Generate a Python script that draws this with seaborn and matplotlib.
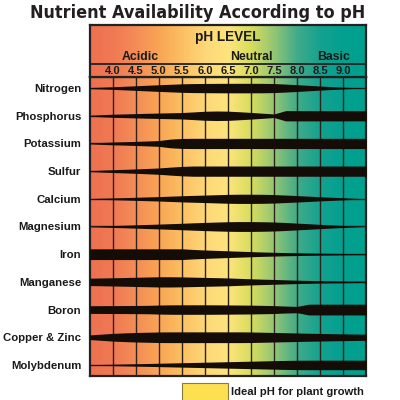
import matplotlib
matplotlib.use("Agg")
import matplotlib.pyplot as plt
import numpy as np
import seaborn as sns
from matplotlib import font_manager
from matplotlib.colors import LinearSegmentedColormap
from matplotlib.patches import Rectangle

# Data
nutrients = ['Nitrogen', 'Phosphorus', 'Potassium', 'Sulfur', 'Calcium', 'Magnesium',
             'Iron', 'Manganese', 'Boron', 'Copper & Zinc', 'Molybdenum']
ph_ticks = [4.0, 4.5, 5.0, 5.5, 6.0, 6.5, 7.0, 7.5, 8.0, 8.5, 9.0]
ph_grid = [3.5, 3.75, 4.0, 4.25, 4.5, 4.75, 5.0, 5.25, 5.5, 5.75, 6.0, 6.25, 6.5,
           6.75, 7.0, 7.25, 7.5, 7.75, 8.0, 8.25, 8.5, 8.75, 9.0, 9.25, 9.5]

# relative availability (band thickness) at each ph_grid point
nitrogen = [.10, .17, .25, .35, .45, .55, .65, .74, .83, .88, .90, .92, .93,
            .93, .93, .92, .88, .78, .66, .53, .40, .28, .17, .07, 0]
phosphorus = [.10, .20, .30, .36, .42, .48, .53, .58, .63, .75, .88, .93, .90,
              .78, .65, .50, .35, 1.0, 1.0, 1.0, 1.0, 1.0, 1.0, 1.0, 1.0]
potassium = [.08, .18, .27, .33, .40, .48, .57, .85, .97, 1.0, 1.0, 1.0, 1.0,
             1.0, 1.0, 1.0, 1.0, 1.0, 1.0, 1.0, 1.0, 1.0, 1.0, 1.0, 1.0]
sulfur = [.08, .18, .27, .35, .43, .52, .62, .78, .92, 1.0, 1.0, 1.0, 1.0,
          1.0, 1.0, 1.0, 1.0, 1.0, 1.0, 1.0, 1.0, 1.0, 1.0, 1.0, 1.0]
calcium = [.05, .12, .17, .23, .30, .37, .43, .52, .60, .67, .73, .80, .87,
           .90, .90, .88, .83, .73, .63, .52, .40, .30, .20, .10, 0]
magnesium = [.05, .12, .18, .25, .32, .40, .47, .55, .63, .72, .80, .87, .93,
             .96, .96, .93, .88, .78, .66, .54, .42, .30, .19, .09, 0]
iron = [1.05, 1.05, 1.05, 1.05, 1.05, 1.05, 1.05, 1.05, 1.05, .92, .82, .74, .66,
        .58, .50, .43, .37, .31, .27, .22, .19, .16, .13, .11, .10]
manganese = [.72, .76, .80, .85, .90, .95, 1.0, 1.0, .97, .92, .87, .82, .77,
             .68, .60, .53, .47, .40, .33, .28, .23, .20, .17, .15, .13]
boron = [.75, .76, .77, .78, .80, .82, .88, .92, .93, .93, .93, .92, .90,
         .88, .86, .82, .77, .68, .62, 1.05, 1.05, 1.05, 1.05, 1.05, 1.05]
copper_zinc = [.45, .60, .75, .85, .93, .98, 1.03, 1.05, 1.05, 1.05, 1.05, 1.05, 1.05,
               1.05, 1.03, .98, .93, .88, .83, .78, .74, .70, .66, .63, .60]
molybdenum = [.03, .08, .13, .18, .23, .28, .33, .38, .43, .48, .53, .58, .63,
              .68, .73, .78, .83, .88, .91, .93, .93, .93, .93, .93, .93]
bands = [nitrogen, phosphorus, potassium, sulfur, calcium, magnesium,
         iron, manganese, boron, copper_zinc, molybdenum]

zones = ['Acidic', 'Neutral', 'Basic']
zone_ph = [4.6, 7.0, 8.8]
ideal_ph = (5.5, 6.5)

# background colour stops along pH
stop_ph = [3.5, 4.0, 4.5, 5.0, 5.5, 6.0, 6.5, 7.0, 7.5, 8.0, 8.5, 9.0, 9.5]
stop_colors = ['#ee7150', '#f07a54', '#f48d57', '#f9a654', '#fcc063', '#fdd878',
               '#fde47c', '#d7dd5d', '#93c576', '#40ab89', '#14a290', '#03a08f', '#00a08e']

sns.set_theme(style='white')
plt.rcParams['font.family'] = ['Liberation Sans', 'DejaVu Sans']

# heavy condensed face for the title if one is installed
cond = [f for f in font_manager.fontManager.ttflist
        if f.name == 'DejaVu Sans' and f.stretch == 'condensed' and f.weight in (700, 'bold')]
if cond:
    title_kw = dict(family='DejaVu Sans', fontstretch='condensed', fontsize=12.9)
else:
    title_kw = dict(family=['Liberation Sans', 'DejaVu Sans'], fontsize=13.8)

cmap = LinearSegmentedColormap.from_list(
    'ph', [((p - 3.5) / 6.0, c) for p, c in zip(stop_ph, stop_colors)])
line_col = '#2e2318'
band_col = '#140c06'

fig = plt.figure(figsize=(4, 4), dpi=100)
W = 400.0
left, right = 89.7 / W, 366.3 / W
ax = fig.add_axes([left, 1 - 376 / W, right - left, (376 - 77) / W])
hx = fig.add_axes([left, 1 - 77 / W, right - left, (77 - 25.3) / W])

grad = np.linspace(3.5, 9.5, 400).reshape(1, -1)
ax.imshow(grad, extent=[3.5, 9.5, 10.4, -0.4], aspect='auto', cmap=cmap,
          vmin=3.5, vmax=9.5, zorder=0)
ax.set_xlim(3.5, 9.5)
ax.set_ylim(10.4, -0.4)
for p in ph_ticks:
    ax.axvline(p, color=line_col, lw=1.0, zorder=1)
for i in range(len(nutrients)):
    ax.axhline(i, color=line_col, lw=1.0, zorder=1)

full_half = 0.185
x = np.array(ph_grid)
for i, vals in enumerate(bands):
    h = np.array(vals) * full_half
    ax.fill_between(x, i - h, i + h, color=band_col, lw=0, zorder=3)

ax.set_xticks([])
ax.set_yticks(range(len(nutrients)))
ax.set_yticklabels(nutrients, fontsize=8.2, fontweight='bold', color='#1a1a1a')
ax.tick_params(axis='y', length=0, pad=6)
for s in ax.spines.values():
    s.set_color('#222222')
    s.set_linewidth(1.6)

# header strip
hx.imshow(grad, extent=[3.5, 9.5, 77, 25.3], aspect='auto', cmap=cmap,
          vmin=3.5, vmax=9.5, zorder=0)
hx.set_xlim(3.5, 9.5)
hx.set_ylim(77, 25.3)
hx.axhline(63.7, color='#222222', lw=1.3)
hx.text(6.5, 37, 'pH LEVEL', ha='center', va='center', fontsize=9.8,
        fontweight='bold', color='#1a1a1a')
for z, p in zip(zones, zone_ph):
    hx.text(p, 57, z, ha='center', va='center', fontsize=8.8,
            fontweight='bold', color='#1a1a1a')
for p in ph_ticks:
    hx.text(p, 71, f'{p:.1f}', ha='center', va='center', fontsize=8,
            fontweight='bold', color='#1a1a1a')
hx.set_xticks([])
hx.set_yticks([])
for s in hx.spines.values():
    s.set_color('#222222')
    s.set_linewidth(1.6)

# legend swatch below the grid
ax.add_patch(Rectangle((ideal_ph[0], 10.65), ideal_ph[1] - ideal_ph[0], 0.75,
                       facecolor='#fde050', edgecolor='#8a7a40', lw=0.8,
                       clip_on=False))
ax.text(ideal_ph[1] + 0.07, 10.97, 'Ideal pH for plant growth', ha='left',
        va='center', fontsize=8.1, fontweight='bold', color='#1a1a1a')

fig.text(0.495, 1 - 13 / W, 'Nutrient Availability According to pH',
         ha='center', va='center', fontweight='bold', color='#231f20', **title_kw)

fig.savefig('out.png', dpi=100)
